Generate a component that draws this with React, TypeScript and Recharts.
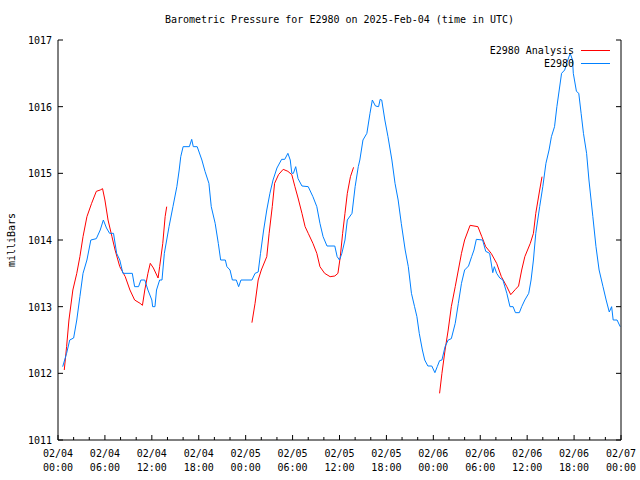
import { Line, LineChart, XAxis, YAxis } from "recharts";

const FONT = "'DejaVu Sans Mono', monospace";
const TITLE = "Barometric Pressure for E2980 on 2025-Feb-04 (time in UTC)";
const Y_LABEL = "milliBars";
const ANALYSIS_NAME = "E2980 Analysis";
const STATION_NAME = "E2980";

// hours since 02/04 00:00 UTC
const xTicks = [
  0, 2, 4, 6, 8, 10, 12, 14, 16, 18, 20, 22, 24, 26, 28, 30, 32, 34, 36, 38,
  40, 42, 44, 46, 48, 50, 52, 54, 56, 58, 60, 62, 64, 66, 68, 70, 72,
];
const yTicks = [1011, 1012, 1013, 1014, 1015, 1016, 1017];

// station observations
const stationHours = [
  0.6, 1.1, 1.5, 2.0, 2.4, 2.8, 3.2, 3.7, 4.2, 4.9, 5.4, 5.8, 6.2, 6.6, 7.1,
  7.5, 7.9, 8.3, 9.5, 9.8, 10.3, 10.6, 11.1, 11.5, 12.0, 12.1, 12.4, 12.6,
  13.0, 13.3, 13.6, 13.9, 14.2, 14.7, 15.2, 15.5, 15.7, 16.0, 16.8, 17.1, 17.3,
  17.8, 18.4, 18.8, 19.3, 19.6, 20.1, 20.5, 20.8, 21.4, 21.6, 22.0, 22.3, 22.8,
  23.1, 23.4, 24.8, 25.2, 25.6, 25.9, 26.3, 26.7, 27.1, 27.5, 28.0, 28.6, 29.0,
  29.4, 29.7, 29.9, 30.1, 30.4, 30.7, 31.2, 32.0, 32.6, 33.1, 33.5, 33.9, 34.4,
  35.4, 35.7, 36.0, 36.3, 36.7, 37.0, 37.6, 38.0, 38.4, 38.6, 39.0, 39.5, 39.9,
  40.2, 40.6, 41.0, 41.2, 41.4, 41.8, 42.2, 42.7, 43.1, 43.5, 43.9, 44.4, 44.8,
  45.2, 45.6, 45.9, 46.2, 46.6, 46.9, 47.3, 47.8, 48.2, 48.5, 48.8, 49.1, 49.5,
  49.9, 50.3, 50.8, 51.2, 51.6, 52.0, 52.5, 52.9, 53.2, 53.5, 54.3, 54.7, 55.2,
  55.6, 55.8, 56.1, 56.5, 56.9, 57.4, 57.8, 58.2, 58.5, 59.0, 59.3, 59.7, 60.2,
  60.5, 60.8, 61.1, 61.6, 62.0, 62.4, 62.8, 63.1, 63.5, 63.8, 64.1, 64.4, 64.8,
  65.2, 65.5, 65.8, 65.9, 66.3, 66.6, 66.9, 67.2, 67.6, 67.9, 68.4, 68.8, 69.2,
  69.7, 70.1, 70.5, 70.8, 71.0, 71.5, 71.9,
];
const stationValues = [
  1012.1, 1012.3, 1012.5, 1012.53, 1012.8, 1013.15, 1013.5, 1013.7, 1014.0,
  1014.02, 1014.15, 1014.3, 1014.18, 1014.1, 1014.1, 1013.8, 1013.7, 1013.5,
  1013.5, 1013.3, 1013.3, 1013.4, 1013.4, 1013.25, 1013.1, 1013.0, 1013.0,
  1013.25, 1013.4, 1013.4, 1013.8, 1014.0, 1014.2, 1014.5, 1014.8, 1015.05,
  1015.25, 1015.4, 1015.4, 1015.51, 1015.4, 1015.4, 1015.2, 1015.03, 1014.85,
  1014.5, 1014.25, 1013.95, 1013.7, 1013.7, 1013.6, 1013.55, 1013.4, 1013.4,
  1013.3, 1013.4, 1013.4, 1013.5, 1013.52, 1013.8, 1014.15, 1014.45, 1014.7,
  1014.9, 1015.08, 1015.21, 1015.21, 1015.3, 1015.2, 1015.0, 1015.0, 1015.1,
  1014.92, 1014.81, 1014.8, 1014.65, 1014.5, 1014.25, 1014.05, 1013.91,
  1013.91, 1013.75, 1013.7, 1013.8, 1014.0, 1014.3, 1014.4, 1014.8, 1015.1,
  1015.2, 1015.5, 1015.6, 1015.9, 1016.1, 1016.01, 1016.0, 1016.11, 1016.1,
  1015.8, 1015.55, 1015.2, 1014.85, 1014.6, 1014.25, 1013.85, 1013.6, 1013.2,
  1013.0, 1012.85, 1012.6, 1012.35, 1012.2, 1012.11, 1012.11, 1012.01, 1012.1,
  1012.19, 1012.2, 1012.4, 1012.5, 1012.52, 1012.75, 1013.05, 1013.35, 1013.55,
  1013.61, 1013.75, 1013.85, 1014.01, 1014.0, 1013.83, 1013.8, 1013.51, 1013.6,
  1013.5, 1013.43, 1013.4, 1013.2, 1013.0, 1013.0, 1012.91, 1012.91, 1013.0,
  1013.1, 1013.2, 1013.4, 1013.7, 1014.1, 1014.5, 1014.8, 1015.15, 1015.35,
  1015.55, 1015.7, 1016.0, 1016.25, 1016.5, 1016.55, 1016.7, 1016.8, 1016.7,
  1016.5, 1016.23, 1016.2, 1015.9, 1015.6, 1015.3, 1014.9, 1014.35, 1013.9,
  1013.55, 1013.3, 1013.1, 1012.92, 1013.0, 1012.8, 1012.8, 1012.7,
];

// analysis runs, null marks the gaps between runs
const analysisHours = [
  0.8, 1.1, 1.4, 1.9, 2.4, 2.8, 3.2, 3.7, 4.3, 4.9, 5.4, 5.7, 6.0, 6.4, 6.9,
  7.3, 7.9, 8.6, 9.2, 9.8, 10.5, 10.8, 11.1, 11.5, 11.8, 12.2, 12.8, 13.0,
  13.4, 13.7, 13.9, 19.0, 24.8, 25.2, 25.6, 26.0, 26.7, 27.0, 27.4, 27.7, 28.2,
  28.8, 29.4, 29.9, 30.3, 30.7, 31.2, 31.6, 32.0, 32.6, 33.1, 33.5, 34.1, 34.8,
  35.4, 35.8, 36.1, 36.4, 36.7, 37.0, 37.4, 37.8, 43.0, 48.8, 49.1, 49.5, 49.9,
  50.3, 50.8, 51.2, 51.6, 52.0, 52.7, 53.7, 54.2, 54.7, 55.4, 56.1, 56.7, 57.4,
  57.9, 58.5, 58.9, 59.3, 59.7, 60.4, 60.8, 61.1, 61.6, 61.9,
];
const analysisValues = [
  1012.05, 1012.4, 1012.8, 1013.25, 1013.5, 1013.75, 1014.05, 1014.35, 1014.55,
  1014.73, 1014.75, 1014.77, 1014.6, 1014.3, 1014.05, 1013.85, 1013.6, 1013.45,
  1013.25, 1013.1, 1013.05, 1013.02, 1013.25, 1013.5, 1013.65, 1013.58,
  1013.43, 1013.6, 1013.95, 1014.35, 1014.5, null, 1012.76, 1013.05, 1013.4,
  1013.55, 1013.75, 1014.1, 1014.5, 1014.85, 1014.98, 1015.06, 1015.03,
  1014.98, 1014.8, 1014.63, 1014.4, 1014.2, 1014.1, 1013.95, 1013.8, 1013.6,
  1013.5, 1013.45, 1013.46, 1013.5, 1013.75, 1014.1, 1014.4, 1014.7, 1014.95,
  1015.09, null, 1011.7, 1012.0, 1012.35, 1012.65, 1013.0, 1013.3, 1013.55,
  1013.8, 1014.0, 1014.22, 1014.2, 1014.05, 1013.9, 1013.8, 1013.65, 1013.45,
  1013.3, 1013.18, 1013.26, 1013.31, 1013.55, 1013.75, 1013.95, 1014.1, 1014.4,
  1014.75, 1014.95,
];

const stationData = stationHours.map((h, i) => ({ h, v: stationValues[i] }));
const analysisData = analysisHours.map((h, i) => ({ h, v: analysisValues[i] }));

const RED = "#ff0000";
const BLUE = "#0080ff";

const pad = (n: number) => String(n).padStart(2, "0");

function BottomTick({ x, y, payload }: any) {
  const h = payload.value as number;
  const major = h % 6 === 0;
  return (
    <g>
      <line x1={x} x2={x} y1={y} y2={y - (major ? 5 : 3)} stroke="#000" />
      {major && (
        <text fontFamily={FONT} fontSize={10} textAnchor="middle" fill="#000">
          <tspan x={x} y={y + 17}>{`02/${pad(4 + Math.floor(h / 24))}`}</tspan>
          <tspan x={x} y={y + 31}>{`${pad(h % 24)}:00`}</tspan>
        </text>
      )}
    </g>
  );
}

function TopTick({ x, y, payload }: any) {
  const major = (payload.value as number) % 6 === 0;
  return <line x1={x} x2={x} y1={y} y2={y + (major ? 5 : 3)} stroke="#000" />;
}

function LeftTick({ x, y, payload }: any) {
  return (
    <g>
      <line x1={x} x2={x + 5} y1={y} y2={y} stroke="#000" />
      <text
        x={x - 6}
        y={y + 4}
        fontFamily={FONT}
        fontSize={10}
        textAnchor="end"
        fill="#000"
      >
        {payload.value}
      </text>
    </g>
  );
}

function RightTick({ x, y }: any) {
  return <line x1={x} x2={x - 5} y1={y} y2={y} stroke="#000" />;
}

export default function App() {
  return (
    <div
      style={{
        position: "absolute",
        left: 0,
        top: 0,
        width: 640,
        height: 480,
        background: "#fff",
      }}
    >
      <LineChart
        width={640}
        height={480}
        margin={{ top: 40, right: 0, bottom: 0, left: 0 }}
      >
        <XAxis
          xAxisId="bottom"
          dataKey="h"
          type="number"
          domain={[0, 72]}
          ticks={xTicks}
          interval={0}
          height={40}
          tickSize={0}
          tickMargin={0}
          tickLine={false}
          axisLine={{ stroke: "#000" }}
          tick={<BottomTick />}
          allowDataOverflow
        />
        <XAxis
          xAxisId="top"
          orientation="top"
          type="number"
          domain={[0, 72]}
          ticks={xTicks}
          interval={0}
          height={0}
          tickSize={0}
          tickMargin={0}
          tickLine={false}
          axisLine={{ stroke: "#000" }}
          tick={<TopTick />}
          allowDataOverflow
        />
        <YAxis
          yAxisId="left"
          type="number"
          domain={[1011, 1017]}
          ticks={yTicks}
          interval={0}
          width={58}
          tickSize={0}
          tickMargin={0}
          tickLine={false}
          axisLine={{ stroke: "#000" }}
          tick={<LeftTick />}
          allowDataOverflow
        />
        <YAxis
          yAxisId="right"
          orientation="right"
          type="number"
          domain={[1011, 1017]}
          ticks={yTicks}
          interval={0}
          width={19}
          tickSize={0}
          tickMargin={0}
          tickLine={false}
          axisLine={{ stroke: "#000" }}
          tick={<RightTick />}
          allowDataOverflow
        />
        <Line
          data={analysisData}
          xAxisId="bottom"
          yAxisId="left"
          dataKey="v"
          name={ANALYSIS_NAME}
          type="linear"
          stroke={RED}
          strokeWidth={1}
          dot={false}
          connectNulls={false}
          isAnimationActive={false}
        />
        <Line
          data={stationData}
          xAxisId="bottom"
          yAxisId="left"
          dataKey="v"
          name={STATION_NAME}
          type="linear"
          stroke={BLUE}
          strokeWidth={1}
          dot={false}
          isAnimationActive={false}
        />
      </LineChart>
      <svg
        width={640}
        height={480}
        style={{ position: "absolute", left: 0, top: 0, pointerEvents: "none" }}
      >
        <text
          x={339.5}
          y={23}
          fontFamily={FONT}
          fontSize={10}
          textAnchor="middle"
          fill="#000"
        >
          {TITLE}
        </text>
        <text
          transform="translate(15,240) rotate(-90)"
          fontFamily={FONT}
          fontSize={10}
          textAnchor="middle"
          fill="#000"
        >
          {Y_LABEL}
        </text>
        <text
          x={574}
          y={54}
          fontFamily={FONT}
          fontSize={10}
          textAnchor="end"
          fill="#000"
        >
          {ANALYSIS_NAME}
        </text>
        <line x1={581} x2={610} y1={50.5} y2={50.5} stroke={RED} />
        <text
          x={574}
          y={67}
          fontFamily={FONT}
          fontSize={10}
          textAnchor="end"
          fill="#000"
        >
          {STATION_NAME}
        </text>
        <line x1={581} x2={610} y1={63.5} y2={63.5} stroke={BLUE} />
      </svg>
    </div>
  );
}
